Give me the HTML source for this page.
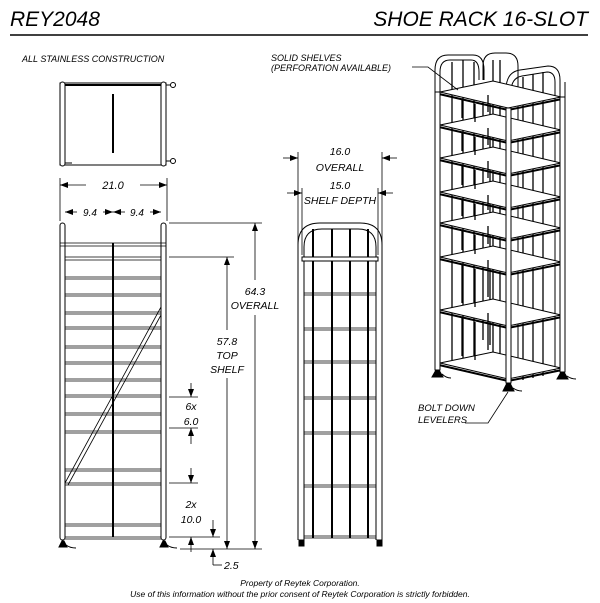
<!DOCTYPE html>
<html><head><style>
html,body{margin:0;padding:0;background:#fff;width:600px;height:603px;overflow:hidden}
svg{display:block}
text{font-family:"Liberation Sans",sans-serif;font-style:italic;fill:#000}
</style></head><body>
<svg width="600" height="603" viewBox="0 0 600 603" xmlns="http://www.w3.org/2000/svg">
<defs>
<marker id="a" markerWidth="8" markerHeight="6" refX="8" refY="3" orient="auto" markerUnits="userSpaceOnUse"><path d="M0,0L8,3L0,6z" fill="#000"/></marker>
</defs>
<g stroke="#000" fill="none">
<line x1="10" y1="35" x2="588" y2="35" stroke-width="1.5"/>
<rect x="60" y="83" width="106" height="82" stroke-width="1"/>
<line x1="64" y1="85" x2="162" y2="85" stroke-width="2"/>
<rect x="60" y="82" width="5" height="84" rx="2.5" stroke-width="1" fill="#fff"/>
<rect x="161" y="82" width="5" height="84" rx="2.5" stroke-width="1" fill="#fff"/>
<line x1="113" y1="94" x2="113" y2="153" stroke-width="2"/>
<circle cx="173" cy="85" r="2.5"/><circle cx="173" cy="161" r="2.5"/>
<line x1="166" y1="85" x2="171" y2="85"/><line x1="166" y1="161" x2="171" y2="161"/>
<line x1="65" y1="163" x2="72" y2="163"/>
<rect x="60" y="223" width="5" height="317" rx="2.5" stroke-width="1"/>
<rect x="161" y="223" width="5" height="317" rx="2.5" stroke-width="1"/>
<line x1="113" y1="243" x2="113" y2="537" stroke-width="2"/>
<g stroke-width="0.8">
<line x1="60" y1="243" x2="166" y2="243"/><line x1="60" y1="246" x2="166" y2="246"/>
<line x1="65" y1="257" x2="161" y2="257"/><line x1="65" y1="260" x2="161" y2="260"/>
<line x1="65" y1="277" x2="161" y2="277"/><line x1="65" y1="279" x2="161" y2="279"/>
<line x1="65" y1="294" x2="161" y2="294"/><line x1="65" y1="296" x2="161" y2="296"/>
<line x1="65" y1="312" x2="161" y2="312"/><line x1="65" y1="314" x2="161" y2="314"/>
<line x1="65" y1="327" x2="161" y2="327"/><line x1="65" y1="329" x2="161" y2="329"/>
<line x1="65" y1="346" x2="161" y2="346"/><line x1="65" y1="348" x2="161" y2="348"/>
<line x1="65" y1="362" x2="161" y2="362"/><line x1="65" y1="364" x2="161" y2="364"/>
<line x1="65" y1="379" x2="161" y2="379"/><line x1="65" y1="381" x2="161" y2="381"/>
<line x1="65" y1="395" x2="161" y2="395"/><line x1="65" y1="397" x2="161" y2="397"/>
<line x1="65" y1="413" x2="161" y2="413"/><line x1="65" y1="415" x2="161" y2="415"/>
<line x1="65" y1="431" x2="161" y2="431"/><line x1="65" y1="433" x2="161" y2="433"/>
<line x1="65" y1="469" x2="161" y2="469"/><line x1="65" y1="471" x2="161" y2="471"/>
<line x1="65" y1="483" x2="161" y2="483"/><line x1="65" y1="485" x2="161" y2="485"/>
<line x1="65" y1="524" x2="161" y2="524"/><line x1="65" y1="526" x2="161" y2="526"/>
<line x1="65" y1="537" x2="161" y2="537"/><line x1="65" y1="539" x2="161" y2="539"/>
</g>
<line x1="161" y1="307" x2="65" y2="483" stroke-width="0.8"/>
<line x1="161" y1="315" x2="68" y2="485" stroke-width="0.8"/>
<path d="M59,547 L62,541 L64,541 L67,547z M160,547 L163,541 L165,541 L168,547z" fill="#000"/>
<path d="M66,545 Q70,548 76,548 M167,545 Q171,548 177,548" stroke-width="1"/>
<g stroke-width="0.8">
<line x1="60" y1="178" x2="60" y2="221"/><line x1="167" y1="178" x2="167" y2="221"/>
<line x1="86" y1="185" x2="60" y2="185" marker-end="url(#a)"/><line x1="140" y1="185" x2="167" y2="185" marker-end="url(#a)"/>
<line x1="77" y1="212" x2="65" y2="212" marker-end="url(#a)"/><line x1="103" y1="212" x2="113" y2="212" marker-end="url(#a)"/>
<line x1="125" y1="212" x2="113" y2="212" marker-end="url(#a)"/><line x1="150" y1="212" x2="161" y2="212" marker-end="url(#a)"/>
<line x1="169" y1="223" x2="262" y2="223"/><line x1="169" y1="257" x2="234" y2="257"/>
<line x1="180" y1="549" x2="262" y2="549"/>
<line x1="255" y1="280" x2="255" y2="223" marker-end="url(#a)"/><line x1="255" y1="315" x2="255" y2="549" marker-end="url(#a)"/>
<line x1="227" y1="330" x2="227" y2="257" marker-end="url(#a)"/><line x1="227" y1="378" x2="227" y2="549" marker-end="url(#a)"/>
<line x1="169" y1="397" x2="198" y2="397"/><line x1="169" y1="428" x2="198" y2="428"/>
<line x1="191" y1="383" x2="191" y2="397" marker-end="url(#a)"/><line x1="191" y1="444" x2="191" y2="428" marker-end="url(#a)"/>
<line x1="169" y1="483" x2="198" y2="483"/><line x1="169" y1="537" x2="220" y2="537"/>
<line x1="191" y1="468" x2="191" y2="483" marker-end="url(#a)"/><line x1="191" y1="552" x2="191" y2="537" marker-end="url(#a)"/>
<line x1="213" y1="520" x2="213" y2="537" marker-end="url(#a)"/>
<path d="M213,565 L213,549" marker-end="url(#a)"/><line x1="213" y1="565" x2="222" y2="565"/>
</g>
<path d="M298,540 V245 Q298,223 320,223 H360 Q382,223 382,245 V540" stroke-width="1"/>
<path d="M304,540 V247 Q304,229 322,229 H358 Q376,229 376,247 V540" stroke-width="1"/>
<g stroke-width="2">
<line x1="313" y1="229" x2="313" y2="538"/><line x1="332" y1="229" x2="332" y2="538"/>
<line x1="350" y1="229" x2="350" y2="538"/><line x1="368" y1="229" x2="368" y2="538"/>
</g>
<rect x="302" y="257" width="76" height="4" stroke-width="1" fill="#fff"/>
<g stroke-width="0.8">
<line x1="304" y1="293" x2="376" y2="293"/><line x1="304" y1="295" x2="376" y2="295"/>
<line x1="304" y1="328" x2="376" y2="328"/><line x1="304" y1="330" x2="376" y2="330"/>
<line x1="304" y1="361" x2="376" y2="361"/><line x1="304" y1="363" x2="376" y2="363"/>
<line x1="304" y1="397" x2="376" y2="397"/><line x1="304" y1="399" x2="376" y2="399"/>
<line x1="304" y1="432" x2="376" y2="432"/><line x1="304" y1="434" x2="376" y2="434"/>
<line x1="304" y1="485" x2="376" y2="485"/><line x1="304" y1="487" x2="376" y2="487"/>
<line x1="304" y1="536" x2="376" y2="536"/><line x1="304" y1="538" x2="376" y2="538"/>
</g>
<rect x="299" y="540" width="5" height="6" fill="#000"/><rect x="377" y="540" width="5" height="6" fill="#000"/>
<g stroke-width="0.8">
<line x1="298" y1="152" x2="298" y2="250"/><line x1="382" y1="152" x2="382" y2="250"/>
<line x1="283" y1="158" x2="298" y2="158" marker-end="url(#a)"/><line x1="397" y1="158" x2="382" y2="158" marker-end="url(#a)"/>
<line x1="302" y1="188" x2="302" y2="255"/><line x1="378" y1="188" x2="378" y2="255"/>
<line x1="287" y1="193" x2="302" y2="193" marker-end="url(#a)"/><line x1="393" y1="193" x2="378" y2="193" marker-end="url(#a)"/>
</g>
<g stroke-width="1">
<path d="M435,370 V70 Q435,55 448,55 H473 Q484,55 484,70 V80" />
<path d="M440,370 V72 Q440,60 450,60 H471 Q479,60 479,72 V80" />
<path d="M483,80 V66 Q483,53 495,53 H506 Q518,53 518,66 V360"/>
<path d="M506,383 V90 Q506,72 520,70 L548,66 Q560,66 560,80 V372"/>
<path d="M511,383 V92 Q511,78 522,76 L547,72 Q555,72 555,82 V372"/>
<line x1="560" y1="80" x2="560" y2="372"/><line x1="565" y1="82" x2="565" y2="372"/>
</g>
<g stroke-width="1.3">
<line x1="452" y1="62" x2="452" y2="360"/><line x1="463" y1="60" x2="463" y2="363"/><line x1="474" y1="62" x2="474" y2="366"/>
<line x1="493" y1="60" x2="493" y2="355"/><line x1="500" y1="60" x2="500" y2="355"/>
<line x1="523" y1="77" x2="523" y2="380"/><line x1="533" y1="74" x2="533" y2="378"/><line x1="543" y1="72" x2="543" y2="376"/>
<line x1="483" y1="95" x2="483" y2="340"/><line x1="490" y1="100" x2="490" y2="345"/>
</g>
<g stroke-width="1" fill="#fff">
<polygon points="440,92 508,108 561,97 493,81"/>
<polygon points="440,125 508,141 561,130 493,114"/>
<polygon points="440,158 508,174 561,163 493,147"/>
<polygon points="440,192 508,208 561,197 493,181"/>
<polygon points="440,223 508,239 561,228 493,212"/>
<polygon points="440,257 508,273 561,262 493,246"/>
<polygon points="440,310 508,326 561,315 493,299"/>
<polygon points="440,363 508,379 561,368 493,352"/>
</g>
<g stroke-width="1.3">
<line x1="462" y1="100" x2="462" y2="118"/><line x1="475" y1="104" x2="475" y2="122"/><line x1="488" y1="95" x2="488" y2="112"/>
<line x1="462" y1="133" x2="462" y2="151"/><line x1="475" y1="137" x2="475" y2="155"/><line x1="488" y1="128" x2="488" y2="145"/>
<line x1="462" y1="166" x2="462" y2="185"/><line x1="475" y1="170" x2="475" y2="189"/><line x1="488" y1="161" x2="488" y2="178"/>
<line x1="462" y1="200" x2="462" y2="216"/><line x1="475" y1="204" x2="475" y2="220"/><line x1="488" y1="195" x2="488" y2="210"/>
<line x1="462" y1="231" x2="462" y2="250"/><line x1="475" y1="235" x2="475" y2="254"/><line x1="488" y1="226" x2="488" y2="244"/>
<line x1="462" y1="265" x2="462" y2="303"/><line x1="475" y1="269" x2="475" y2="307"/><line x1="488" y1="260" x2="488" y2="297"/>
<line x1="462" y1="318" x2="462" y2="356"/><line x1="475" y1="322" x2="475" y2="360"/><line x1="488" y1="313" x2="488" y2="350"/>
</g>
<g stroke-width="2">
<polyline points="439,94 508,110 562,99"/><polyline points="439,127 508,143 562,132"/>
<polyline points="439,160 508,176 562,165"/><polyline points="439,194 508,210 562,199"/>
<polyline points="439,225 508,241 562,230"/><polyline points="439,259 508,275 562,264"/>
<polyline points="439,312 508,328 562,317"/><polyline points="439,365 508,381 562,370"/>
</g>
<g stroke-width="1" fill="#fff">
<rect x="435" y="92" width="5" height="278"/><rect x="506" y="108" width="5" height="275"/><rect x="560" y="97" width="5" height="275"/>
</g>
<path d="M432,377 L436,370 L439,370 L443,377z M503,391 L507,383 L510,383 L514,391z M557,379 L561,372 L564,372 L568,379z" fill="#000"/>
<path d="M442,374 Q446,378 451,378 M513,388 Q517,391 522,391 M567,376 Q571,379 576,379" stroke-width="1"/>
<polyline points="412,67 428,67 458,90" stroke-width="0.8"/>
<polyline points="465,423 488,423 508,392" stroke-width="0.8"/>
</g>
<text x="10" y="26" font-size="21">REY2048</text>
<text x="588" y="26" font-size="21" text-anchor="end">SHOE RACK 16-SLOT</text>
<text x="22" y="62" font-size="9">ALL STAINLESS CONSTRUCTION</text>
<text x="271" y="61" font-size="9">SOLID SHELVES</text>
<text x="271" y="71" font-size="9">(PERFORATION AVAILABLE)</text>
<text x="418" y="411" font-size="9.5">BOLT DOWN</text>
<text x="418" y="423" font-size="9.5">LEVELERS</text>
<text x="113" y="189" font-size="11" text-anchor="middle">21.0</text>
<text x="90" y="216" font-size="10" text-anchor="middle">9.4</text>
<text x="137" y="216" font-size="10" text-anchor="middle">9.4</text>
<text x="255" y="295" font-size="10.5" text-anchor="middle">64.3</text>
<text x="255" y="309" font-size="10.5" text-anchor="middle">OVERALL</text>
<text x="227" y="345" font-size="10.5" text-anchor="middle">57.8</text>
<text x="227" y="359" font-size="10.5" text-anchor="middle">TOP</text>
<text x="227" y="373" font-size="10.5" text-anchor="middle">SHELF</text>
<text x="191" y="410" font-size="10.5" text-anchor="middle">6x</text>
<text x="191" y="425" font-size="10.5" text-anchor="middle">6.0</text>
<text x="191" y="508" font-size="10.5" text-anchor="middle">2x</text>
<text x="191" y="523" font-size="10.5" text-anchor="middle">10.0</text>
<text x="224" y="569" font-size="10.5">2.5</text>
<text x="340" y="155" font-size="10.5" text-anchor="middle">16.0</text>
<text x="340" y="171" font-size="10.5" text-anchor="middle">OVERALL</text>
<text x="340" y="189" font-size="10.5" text-anchor="middle">15.0</text>
<text x="340" y="204" font-size="10.5" text-anchor="middle">SHELF DEPTH</text>
<text x="300" y="586" font-size="8.5" text-anchor="middle">Property of Reytek Corporation.</text>
<text x="300" y="597" font-size="8.5" text-anchor="middle">Use of this information without the prior consent of Reytek Corporation is strictly forbidden.</text>
</svg>
</body></html>
